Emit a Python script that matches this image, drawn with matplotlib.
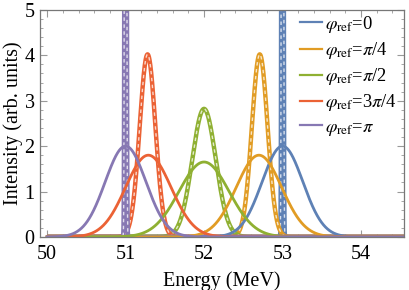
import numpy as np
import matplotlib
matplotlib.use("Agg")
import matplotlib.pyplot as plt
from matplotlib.ticker import MultipleLocator

plt.rcParams['font.family'] = ['Liberation Serif', 'DejaVu Serif']
plt.rcParams['mathtext.fontset'] = 'stix'

labels = [r'$\varphi_{\rm ref}$=0', r'$\varphi_{\rm ref}$=$\pi$/4', r'$\varphi_{\rm ref}$=$\pi$/2',
          r'$\varphi_{\rm ref}$=3$\pi$/4', r'$\varphi_{\rm ref}$=$\pi$']
colors = ['#5E81B5', '#E19C24', '#8FB032', '#EB6235', '#8778B3']

# solid (input) spectra: center, peak, sigma
solid_center = [53.0, 52.70, 52.0, 51.29, 51.0]
solid_peak = [2.0, 1.80, 1.65, 1.80, 2.0]
solid_sigma = [0.26, 0.29, 0.32, 0.29, 0.26]

# dashed (compressed) spectra
dash_center = [53.0, 52.71, 52.0, 51.28, 51.0]
dash_peak = [60.0, 4.02, 2.82, 4.02, 60.0]
dash_sigma = [0.008, 0.10, 0.15, 0.10, 0.008]

E = np.linspace(50.0, 54.6, 8000)

fig = plt.figure(figsize=(4.09, 2.90), dpi=100)
ax = fig.add_axes([0.098, 0.183, 0.890, 0.783])

for i in range(5):
    y = dash_peak[i] * np.exp(-(E - dash_center[i])**2 / (2 * dash_sigma[i]**2))
    ax.plot(E, y, color=colors[i], lw=3.2, solid_capstyle='butt')
    ax.plot(E, y, color='white', lw=1.0, alpha=0.75, dashes=(2.5, 2.5))

handles = []
for i in range(5):
    y = solid_peak[i] * np.exp(-(E - solid_center[i])**2 / (2 * solid_sigma[i]**2))
    h, = ax.plot(E, y, color=colors[i], lw=2.0, label=labels[i])
    handles.append(h)

ax.set_xlim(49.91, 54.55)
ax.set_ylim(0, 5)
ax.xaxis.set_major_locator(MultipleLocator(1))
ax.xaxis.set_minor_locator(MultipleLocator(0.2))
ax.yaxis.set_major_locator(MultipleLocator(1))
ax.yaxis.set_minor_locator(MultipleLocator(0.2))
ax.tick_params(which='both', direction='in', top=True, right=True, color='#999999',
               labelsize=14.5)
ax.tick_params(axis='x', pad=6)
ax.tick_params(axis='y', pad=4)
ax.tick_params(which='major', length=5, width=0.8)
ax.tick_params(which='minor', length=2.5, width=0.6)
for s in ax.spines.values():
    s.set_color('#777777')
    s.set_linewidth(0.9)

ax.set_xlabel('Energy (MeV)', fontsize=14.5, labelpad=5)
ax.set_ylabel('Intensity (arb. units)', fontsize=14.5, labelpad=1)

leg = fig.legend(handles=handles, loc='upper left', bbox_to_anchor=(0.733, 0.952),
                 frameon=False, fontsize=13.3, handlelength=1.2, handletextpad=0.18,
                 labelspacing=0.28, borderaxespad=0, borderpad=0)
for l in leg.get_lines():
    l.set_linewidth(1.6)

fig.savefig('out.png', dpi=100)
